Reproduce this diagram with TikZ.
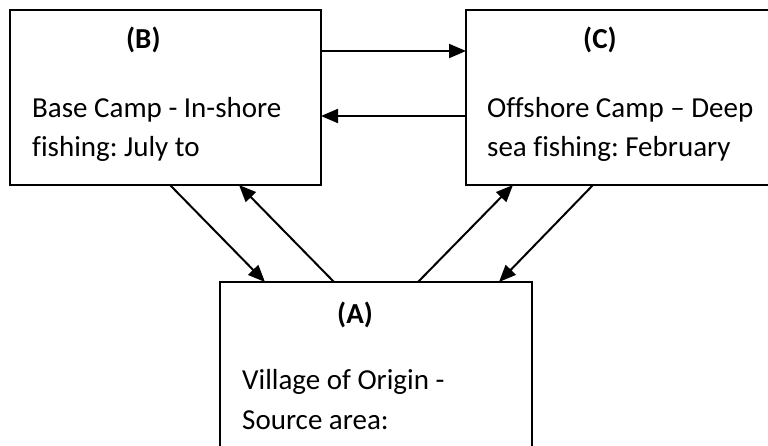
\documentclass[tikz,border=0pt]{standalone}
\usepackage{fontspec}
\setmainfont[Ligatures=NoCommon]{Carlito}
\usetikzlibrary{arrows.meta}
\frenchspacing

\tikzset{
campbox/.style={draw,line width=2pt,minimum width=311pt,minimum height=175pt,
  anchor=north west,inner sep=0pt,outer sep=0pt},
txt/.style={anchor=base west,inner sep=0pt,font=\fontsize{29}{39}\selectfont},
tag/.style={txt,font=\fontsize{29}{39}\selectfont\bfseries},
link/.style={line width=2pt,-{Triangle[length=17pt,width=14pt]}}
}

\begin{document}
\begin{tikzpicture}[x=1pt,y=-1pt]
\useasboundingbox (0,0) rectangle (768,446);
\clip (0,0) rectangle (768,446);
% boxes
\node[campbox] (B) at (10,10) {};
\node[campbox] (C) at (466,10) {};
\node[campbox,minimum width=312pt,minimum height=200pt] (A) at (220,282) {};
% texts
\node[tag] (Bt) at (126,49) {(B)};
\node[txt] (B1) at (32,118) {Base Camp - In-shore};
\node[txt] (B2) at (32,157) {fishing: July to};
\node[tag] (Ct) at (583,49) {(C)};
\node[txt] (C1) at (487,118) {Offshore Camp -- Deep};
\node[txt] (C2) at (487,157) {sea fishing: February};
\node[tag] (At) at (337,323) {(A)};
\node[txt] (A1) at (242,389) {Village of Origin -};
\node[txt] (A2) at (242,429) {Source area:};
% links
\draw[link] ([yshift=-41pt]B.north east) -- ([yshift=-41pt]C.north west);
\draw[link] ([yshift=-106pt]C.north west) -- ([yshift=-106pt]B.north east);
\draw[link] ([xshift=160pt]B.south west) -- ([xshift=45pt]A.north west);
\draw[link] ([xshift=114pt]A.north west) -- ([xshift=229pt]B.south west);
\draw[link] ([xshift=198pt]A.north west) -- ([xshift=47pt]C.south west);
\draw[link] ([xshift=127pt]C.south west) -- ([xshift=279pt]A.north west);
\end{tikzpicture}
\end{document}
